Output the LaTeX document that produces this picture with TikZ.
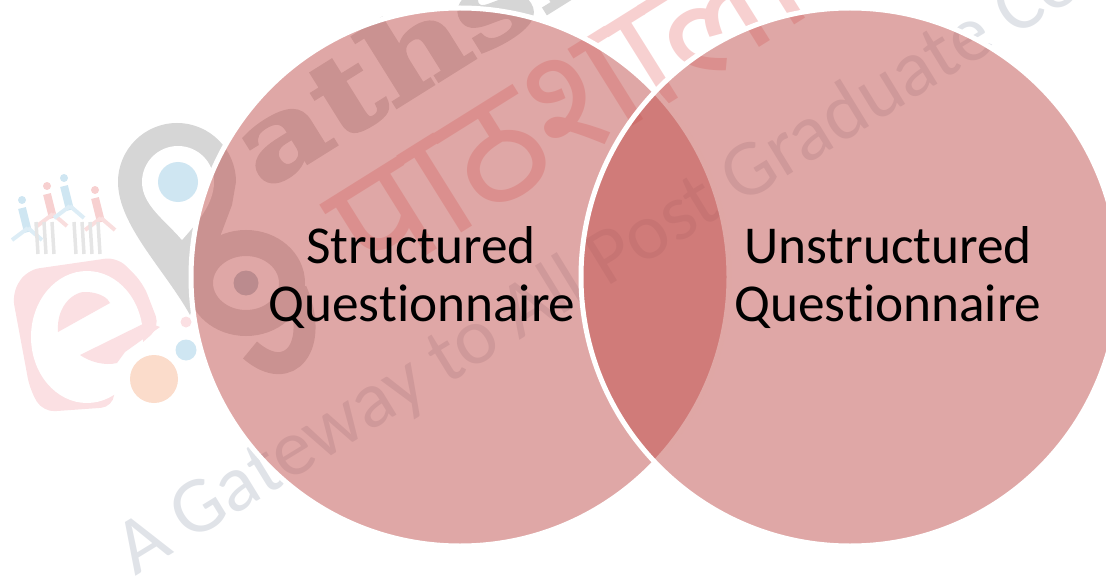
\documentclass[tikz,border=0pt]{standalone}
\usepackage{fontspec}
\setmainfont[Ligatures=NoCommon]{Carlito}
\newfontfamily\slabfont[BoldFeatures={FakeBold=2.5}]{DejaVu Serif}
\newfontfamily\hindifont[Script=Devanagari]{Noto Sans}
\definecolor{vennred}{HTML}{C0504D}
\definecolor{markgrey}{HTML}{D6D6D6}
\definecolor{linegrey}{HTML}{E0E3E8}
\definecolor{markred}{HTML}{F7D0D0}
\definecolor{markpink}{HTML}{FBE0E3}
\definecolor{markblue}{HTML}{CFE6F2}
\definecolor{markorange}{HTML}{FBDCCB}
\tikzset{
	venn/.style={circle, minimum size=538pt, inner sep=0pt, draw=white, line width=5pt, fill=vennred, fill opacity=0.5, draw opacity=1},
	label/.style={font=\fontsize{53.3}{58}\selectfont, align=center, text=black, anchor=base},
	spot/.style={circle, inner sep=0pt}
}
\begin{document}
\begin{tikzpicture}[x=1pt, y=-1pt]
	\useasboundingbox (0,0) rectangle (1106,583);
	%watermark text
	\node (slogan) at (132,578) [rotate=31.5, anchor=base west, text=linegrey, font=\fontsize{80}{80}\selectfont]{A Gateway to All Post Graduate Courses};
	\node (brand) at (260,193) [rotate=32, xscale=1.25, anchor=base west, text=markgrey, font=\fontsize{110}{110}\slabfont\bfseries]{athshala};
	\node (hindi) at (369,291) [rotate=32, anchor=base west, text=markred, font=\fontsize{160}{160}\hindifont]{पाठशाला};
	%logo
	\fill[markpink, rounded corners=12pt] (12,293) -- (27,270) -- (117,257) -- (143,283) -- (160,327) -- (117,365) -- (113,407) -- (43,412) -- (30,390) -- cycle;
	\fill[white] (87,337) ellipse (56 and 66);
	\fill[white] (100,365) -- (150,350) -- (125,400) -- cycle;
	\fill[markpink] (58,332) .. controls (56,305) and (75,290) .. (88,292) .. controls (100,293) and (108,298) .. (110,303) -- cycle;
	\fill[markpink] (80,355) -- (147,322) -- (160,327) -- (125,352) -- (117,363) .. controls (105,366) and (90,362) .. (80,355) -- cycle;
	\fill[markgrey] (118,182) arc (180:360:59) -- (232,205) .. controls (215,250) and (200,290) .. (190,315) .. controls (165,270) and (118,225) .. (118,182) -- cycle;
	\fill[white] (142,182) arc (180:360:36) .. controls (214,205) and (195,225) .. (182,240) .. controls (165,220) and (142,205) .. (142,182) -- cycle;
	\node (pinspot) at (178,182) [spot, minimum size=40pt, fill=markblue]{};
	\node (orangespot) at (154,379) [spot, minimum size=48pt, fill=markorange]{};
	\node (bluespot) at (186,350) [spot, minimum size=21pt, fill=markblue]{};
	\node (pinkspot) at (186,322) [spot, minimum size=11pt, fill=markpink]{};
	\draw[markgrey, line width=26pt] (246,283) ellipse (46 and 40);
	\draw[markgrey, line width=22pt] (296,290) .. controls (320,345) and (290,385) .. (250,350);
	\node (innerspot) at (246,283) [spot, minimum size=25pt, fill=markblue!70!gray]{};
	%people
	\foreach \x/\y/\c in {22/200/markblue, 47/186/markred, 64/178/markblue, 95/190/markred}{
		\draw[\c, line width=8pt] (\x,\y+8) -- (\x+6,\y+32);
		\draw[\c!70!white, line width=4pt] (\x+6,\y+28) -- (\x-10,\y+40);
		\draw[\c!70!white, line width=4pt] (\x+6,\y+28) -- (\x+20,\y+40);
		\node (head\x) at (\x,\y) [spot, minimum size=8pt, fill=\c]{};
	}
	\foreach \x in {36,44,52,74,82,90,98}{
		\draw[gray!20, line width=3.5pt] (\x,222) -- (\x+2,254);
	}
	%circles
	\node (structuredcircle) at (460,277) [venn]{};
	\node (unstructuredcircle) at (850,277) [venn]{};
	%labels
	\node (structured) at (421,263) [label]{Structured};
	\node (questionleft) at (422,321) [label]{Questionnaire};
	\node (unstructured) at (888,263) [label]{Unstructured};
	\node (questionright) at (888,321) [label]{Questionnaire};
\end{tikzpicture}
\end{document}
